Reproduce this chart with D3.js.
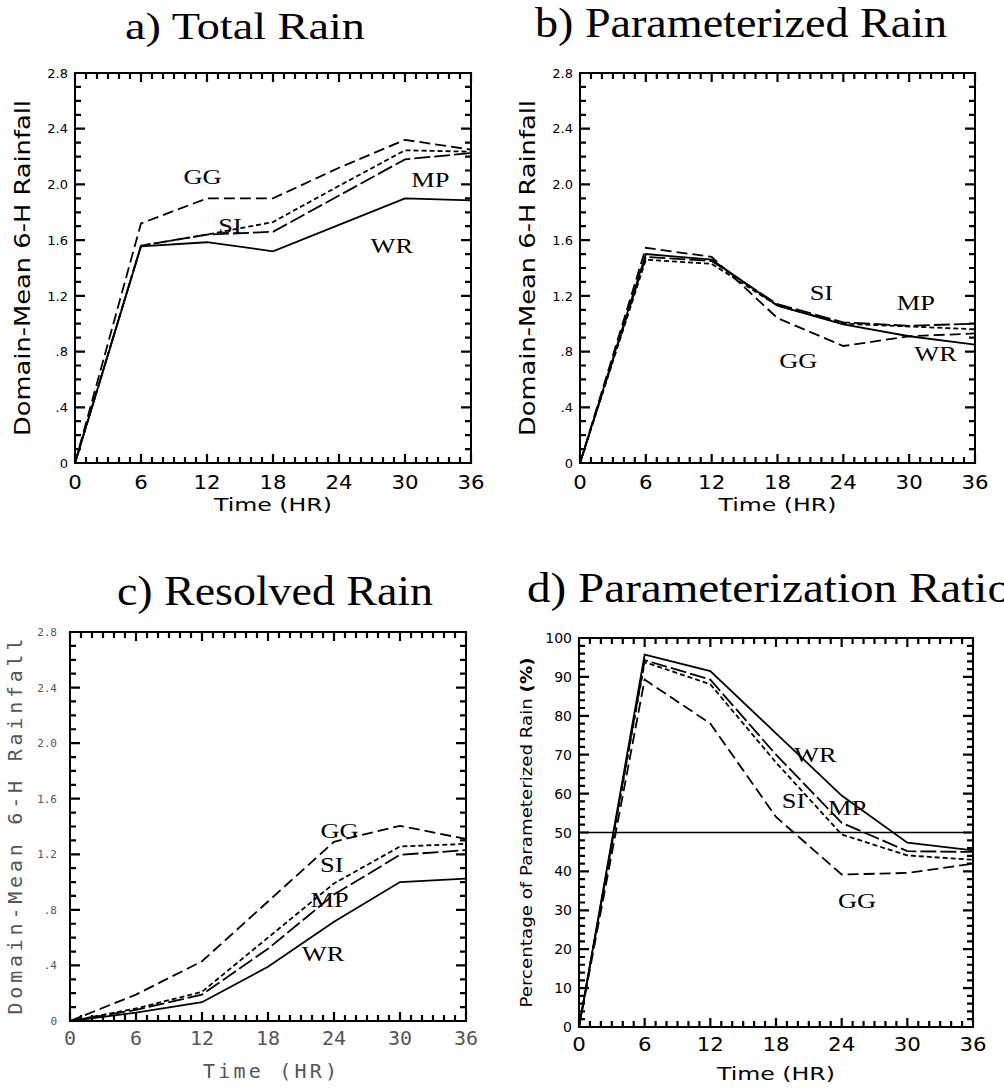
<!DOCTYPE html>
<html>
<head>
<meta charset="utf-8">
<script src="https://cdn.jsdelivr.net/npm/d3@7"></script>
</head>
<body style="margin:0; background:#fff">
<svg id="chart" width="1004" height="1091"></svg>
<script>
// time axis (hours) and the four schemes
const hours = [0, 6, 12, 18, 24, 30, 36];
const hourTickLabels = ['0', '6', '12', '18', '24', '30', '36'];
const schemes = ['GG', 'SI', 'MP', 'WR'];

// domain-mean 6-h rainfall axis
const rainTicks = [0, 0.4, 0.8, 1.2, 1.6, 2.0, 2.4, 2.8];
const rainTickLabels = ['0', '.4', '.8', '1.2', '1.6', '2.0', '2.4', '2.8'];
// percentage axis
const pctTicks = [0, 10, 20, 30, 40, 50, 60, 70, 80, 90, 100];
const pctTickLabels = ['0', '10', '20', '30', '40', '50', '60', '70', '80', '90', '100'];

// a) total rain
const totalGG = [0, 1.72, 1.90, 1.90, 2.12, 2.32, 2.25];
const totalSI = [0, 1.56, 1.64, 1.73, 1.99, 2.245, 2.235];
const totalMP = [0, 1.56, 1.64, 1.66, 1.92, 2.18, 2.225];
const totalWR = [0, 1.555, 1.585, 1.52, 1.71, 1.90, 1.885];

// b) parameterized rain
const paramGG = [0, 1.545, 1.48, 1.04, 0.84, 0.91, 0.93];
const paramSI = [0, 1.46, 1.43, 1.13, 1.00, 0.98, 0.96];
const paramMP = [0, 1.48, 1.45, 1.14, 1.01, 0.985, 1.0];
const paramWR = [0, 1.50, 1.46, 1.13, 0.995, 0.91, 0.85];

// c) resolved rain
const resolvedGG = [0, 0.19, 0.43, 0.86, 1.29, 1.405, 1.31];
const resolvedSI = [0, 0.09, 0.21, 0.60, 0.99, 1.256, 1.275];
const resolvedMP = [0, 0.08, 0.19, 0.52, 0.91, 1.196, 1.23];
const resolvedWR = [0, 0.06, 0.135, 0.39, 0.715, 1.0, 1.025];

// d) parameterization ratio (%)
const ratioGG = [0, 89.3, 78, 54, 39.2, 39.6, 42];
const ratioSI = [0, 93.8, 88.1, 68, 49.5, 44.1, 43];
const ratioMP = [0, 94.3, 89.3, 70, 52.5, 45.2, 45];
const ratioWR = [0, 95.7, 91.5, 75.5, 59.5, 47.4, 45.4];
const ratioRef = 50;

const dashes = { GG: '11,5', SI: '5,3', MP: '16,4', WR: null };

const svg = d3.select('#chart');
svg.append('rect').attr('width', 1004).attr('height', 1091).attr('fill', '#fff');

// stretch a text horizontally (the scanned fonts are wide)
function stretch(sel, factor) {
     sel.each(function () {
          const w = this.getComputedTextLength();
          this.setAttribute('textLength', w * factor);
          this.setAttribute('lengthAdjust', 'spacingAndGlyphs');
     });
}
function fitWidth(sel, w, adjust) {
     sel.attr('textLength', w).attr('lengthAdjust', adjust || 'spacingAndGlyphs');
}

const serif = "'Liberation Serif', 'Times New Roman', serif";

const panels = [
     {
          title: 'a) Total Rain', titleX: 125, titleY: 39, titleSize: 37, titleW: 240,
          box: { left: 75, top: 73, right: 471, bottom: 463 },
          series: { GG: totalGG, SI: totalSI, MP: totalMP, WR: totalWR },
          yDomain: [0, 2.8], yTicks: rainTicks, yLabels: rainTickLabels, yMinor: 0.1,
          yTitle: 'Domain-Mean 6-H Rainfall', yTitleX: 22, yTitleLen: 336, yTitleSize: 21,
          labels: { GG: [11.6, 2.005], SI: [14.1, 1.65], MP: [32.3, 1.985], WR: [28.8, 1.51] },
          style: 'sans', timeY: 511, timeW: 118
     },
     {
          title: 'b) Parameterized Rain', titleX: 535, titleY: 37, titleSize: 42, titleW: 412,
          box: { left: 580, top: 73, right: 975, bottom: 463 },
          series: { GG: paramGG, SI: paramSI, MP: paramMP, WR: paramWR },
          yDomain: [0, 2.8], yTicks: rainTicks, yLabels: rainTickLabels, yMinor: 0.1,
          yTitle: 'Domain-Mean 6-H Rainfall', yTitleX: 527, yTitleLen: 336, yTitleSize: 21,
          labels: { GG: [19.9, 0.68], SI: [22.0, 1.17], MP: [30.6, 1.095], WR: [32.4, 0.73] },
          style: 'sans', timeY: 511, timeW: 118
     },
     {
          title: 'c) Resolved Rain', titleX: 117, titleY: 605, titleSize: 42, titleW: 316,
          box: { left: 70, top: 632, right: 466, bottom: 1021 },
          series: { GG: resolvedGG, SI: resolvedSI, MP: resolvedMP, WR: resolvedWR },
          yDomain: [0, 2.8], yTicks: rainTicks, yLabels: rainTickLabels, yMinor: 0.1,
          yTitle: 'Domain-Mean 6-H Rainfall', yTitleX: 15, yTitleLen: 376, yTitleSize: 20,
          labels: { GG: [24.5, 1.32], SI: [23.8, 1.075], MP: [23.6, 0.82], WR: [23.0, 0.434] },
          style: 'mono', timeY: 1078, timeW: 134
     },
     {
          title: 'd) Parameterization Ratio', titleX: 527, titleY: 602, titleSize: 42, titleW: 484,
          box: { left: 579, top: 638, right: 973, bottom: 1027 },
          series: { GG: ratioGG, SI: ratioSI, MP: ratioMP, WR: ratioWR },
          yDomain: [0, 100], yTicks: pctTicks, yLabels: pctTickLabels, yMinor: 2,
          yTitle: 'Percentage of Parameterized Rain ', yTitleBold: '(%)', yTitleX: 527, yTitleLen: 350, yTitleSize: 15,
          labels: { GG: [25.4, 30.5], SI: [19.6, 56.2], MP: [24.5, 54.5], WR: [21.6, 68.2] },
          refLine: ratioRef,
          style: 'sans', timeY: 1080, timeW: 118
     }
];

panels.forEach(drawPanel);

function drawPanel(p) {
     const b = p.box;
     const mono = p.style === 'mono';
     const font = mono ? "'DejaVu Sans Mono', monospace" : "'DejaVu Sans', sans-serif";
     const ink = mono ? '#555' : '#000';

     const x = d3.scaleLinear().domain([0, 36]).range([b.left, b.right]);
     const y = d3.scaleLinear().domain(p.yDomain).range([b.bottom, b.top]);

     const g = svg.append('g');

     // title
     const t = g.append('text')
          .attr('x', p.titleX)
          .attr('y', p.titleY)
          .style('font-family', serif)
          .style('font-size', p.titleSize + 'px')
          .text(p.title);
     fitWidth(t, p.titleW);

     // tick marks, all pointing inward, on all four sides
     const xMinor = d3.range(0, 37, 1);
     const yMinor = d3.range(0, 1000).map(i => p.yDomain[0] + i * p.yMinor).filter(v => v <= p.yDomain[1] + 1e-6);
     const isMajorY = v => p.yTicks.some(tv => Math.abs(tv - v) < 1e-6);
     const tp = d3.path();
     xMinor.forEach(d => {
          const len = d % 6 === 0 ? 9 : 6;
          tp.moveTo(x(d), b.bottom); tp.lineTo(x(d), b.bottom - len);
          tp.moveTo(x(d), b.top); tp.lineTo(x(d), b.top + len);
     });
     yMinor.forEach(d => {
          const len = isMajorY(d) ? 10 : 6;
          tp.moveTo(b.left, y(d)); tp.lineTo(b.left + len, y(d));
          tp.moveTo(b.right, y(d)); tp.lineTo(b.right - len, y(d));
     });
     g.append('path')
          .attr('d', tp.toString())
          .attr('fill', 'none')
          .attr('stroke', '#000')
          .attr('stroke-width', 2.2);

     // x tick labels
     const xl = g.append('g').selectAll('text')
          .data(hours)
          .enter()
          .append('text')
          .attr('x', d => x(d))
          .attr('y', b.bottom + (mono ? 24 : p.refLine !== undefined ? 24 : 26))
          .attr('text-anchor', 'middle')
          .style('font-family', font)
          .style('font-size', (mono ? 20 : 19) + 'px')
          .attr('fill', ink)
          .text((d, i) => hourTickLabels[i]);
     if (!mono) stretch(xl, 1.12);

     // y tick labels
     const ySize = mono ? 11 : (p.refLine !== undefined ? 14 : 13);
     g.append('g').selectAll('text')
          .data(p.yTicks)
          .enter()
          .append('text')
          .attr('x', b.left - (mono ? 13 : 7))
          .attr('y', d => y(d))
          .attr('dy', '0.36em')
          .attr('text-anchor', 'end')
          .style('font-family', font)
          .style('font-size', ySize + 'px')
          .attr('fill', ink)
          .text((d, i) => p.yLabels[i]);

     // axis titles
     const cap = p.yTitleSize * 0.36;
     const yt = g.append('text')
          .attr('transform', 'translate(' + (p.yTitleX + cap) + ',' + ((b.top + b.bottom) / 2) + ') rotate(-90)')
          .attr('text-anchor', 'middle')
          .style('font-family', font)
          .style('font-size', p.yTitleSize + 'px')
          .attr('fill', ink)
          .text(p.yTitle);
     if (p.yTitleBold) {
          yt.append('tspan').style('font-weight', 'bold').text(p.yTitleBold);
     }
     fitWidth(yt, p.yTitleLen, mono ? 'spacing' : 'spacingAndGlyphs');

     const xt = g.append('text')
          .attr('x', (b.left + b.right) / 2 + (mono ? 2 : 0))
          .attr('y', p.timeY)
          .attr('text-anchor', 'middle')
          .style('font-family', font)
          .style('font-size', (mono ? 20 : 18) + 'px')
          .attr('fill', ink)
          .text('Time (HR)');
     fitWidth(xt, p.timeW, mono ? 'spacing' : 'spacingAndGlyphs');

     // 50 % reference line
     if (p.refLine !== undefined) {
          g.append('line')
               .attr('x1', x(0)).attr('x2', x(36))
               .attr('y1', y(p.refLine)).attr('y2', y(p.refLine))
               .attr('stroke', '#000')
               .attr('stroke-width', 1.7);
     }

     // scheme curves
     const line = d3.line()
          .x((d, i) => x(hours[i]))
          .y(d => y(d));
     g.append('g').selectAll('path')
          .data(schemes)
          .enter()
          .append('path')
          .attr('d', s => line(p.series[s]))
          .attr('fill', 'none')
          .attr('stroke', '#000')
          .attr('stroke-width', 1.8)
          .attr('stroke-dasharray', s => dashes[s]);

     // scheme labels
     const lab = g.append('g').selectAll('text')
          .data(schemes)
          .enter()
          .append('text')
          .attr('x', s => x(p.labels[s][0]))
          .attr('y', s => y(p.labels[s][1]))
          .attr('text-anchor', 'middle')
          .style('font-family', serif)
          .style('font-size', '22px')
          .text(s => s);
     stretch(lab, 1.2);

     // frame
     g.append('rect')
          .attr('x', b.left)
          .attr('y', b.top)
          .attr('width', b.right - b.left)
          .attr('height', b.bottom - b.top)
          .attr('fill', 'none')
          .attr('stroke', '#000')
          .attr('stroke-width', 2);
}
</script>
</body>
</html>
